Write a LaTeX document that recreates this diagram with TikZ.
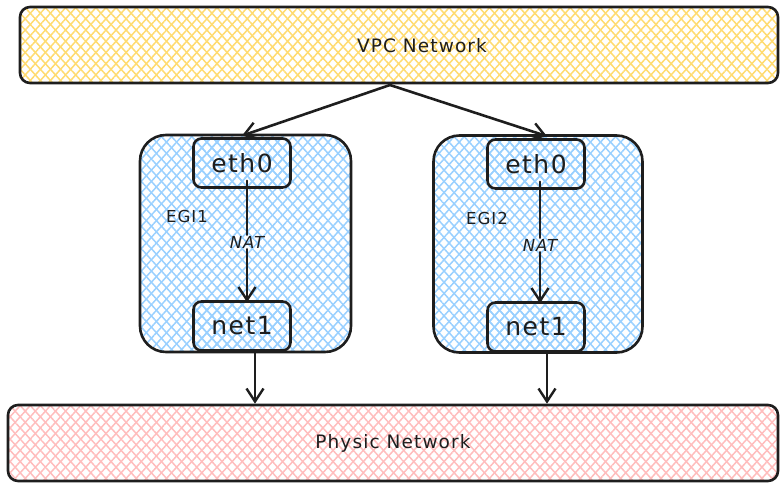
\documentclass[tikz,border=0pt]{standalone}
\usepackage{fontspec}
\usetikzlibrary{patterns.meta,arrows.meta}
\newfontfamily\sketchfont[LetterSpace=6]{DejaVu Sans}
\definecolor{ink}{HTML}{1E1E1E}
\definecolor{hatchyellow}{HTML}{FFDB70}
\definecolor{hatchblue}{HTML}{99D0FF}
\definecolor{hatchred}{HTML}{FFBDBD}
\tikzset{
  hatch/.style={
    preaction={pattern={Lines[angle=48,distance=7.5pt,line width=1.5pt]},pattern color=#1},
    pattern={Lines[angle=-48,distance=7.5pt,line width=1.5pt]},pattern color=#1},
  band/.style={draw=ink,line width=2.6pt,rounded corners=10pt,hatch=#1,
    minimum width=758pt,minimum height=76pt,inner sep=0pt,
    font=\sketchfont\fontsize{18.5}{21}\selectfont,text=ink},
  bandtext/.style={font=\sketchfont\fontsize{18.5}{21}\selectfont,text=ink,inner sep=0pt},
  gateway/.style={draw=ink,line width=2.6pt,rounded corners=26pt,hatch=hatchblue,
    minimum width=211pt,minimum height=217pt,inner sep=0pt},
  port/.style={draw=ink,line width=2.6pt,rounded corners=8pt,hatch=hatchblue,
    minimum width=97pt,minimum height=49pt,inner sep=0pt,
    font=\sketchfont\fontsize{25}{28}\selectfont,text=ink},
  tag/.style={font=\sketchfont\fontsize{16.5}{19}\selectfont,text=ink,inner sep=1pt},
  slanted/.style={font=\sketchfont\itshape\fontsize{16.5}{19}\selectfont},
  flow/.style={draw=ink,line width=2.6pt,line cap=round,
    -{Straight Barb[length=13pt,width=17pt,line width=2.4pt]}},
  plain/.style={draw=ink,line width=2.6pt,line cap=round}
}
\begin{document}
\begin{tikzpicture}[x=1pt,y=-1pt]
\useasboundingbox (0,0) rectangle (780,484);

% networks
\node[band=hatchyellow] (vpc) at (399,45) {};
\node[bandtext] (vpctext) at (422,46) {VPC Network};
\node[band=hatchred,minimum width=770pt] (phys) at (393,443) {Physic Network};

% gateway instances
\node[gateway] (egi1) at (245.5,243.5) {};
\node[gateway,minimum width=209pt] (egi2) at (538,244) {};

\node[port] (eth1) at (242,163) {eth0};
\node[port] (net1) at (242,326) {net1};
\node[port] (eth2) at (536,164) {eth0};
\node[port] (net2) at (536,327) {net1};

\node[tag] (lab1) at (187,216) {EGI1};
\node[tag] (lab2) at (487,218) {EGI2};
\node[tag,slanted] (nat1) at (247,242) {NAT};
\node[tag,slanted] (nat2) at (540,245) {NAT};

% VPC fan-out
\coordinate (fork) at (390,85);
\path[flow] (fork) -- ([yshift=-2pt]egi1.north -| eth1.north);
\path[flow] (fork) -- ([xshift=9pt,yshift=-2pt]egi2.north);

% NAT between eth0 and net1
\path[plain] ([xshift=5pt,yshift=8pt]eth1.south) -- (nat1.north);
\path[flow] (nat1.south) -- ([xshift=5pt,yshift=-2pt]net1.north);
\path[plain] ([xshift=4pt,yshift=8pt]eth2.south) -- (nat2.north);
\path[flow] (nat2.south) -- ([xshift=4pt,yshift=-2pt]net2.north);

% down to the physical network
\path[flow] ([xshift=13pt]net1.south) -- ([xshift=13pt]net1.south |- phys.north);
\path[flow] ([xshift=11pt]net2.south) -- ([xshift=11pt]net2.south |- phys.north);
\end{tikzpicture}
\end{document}
